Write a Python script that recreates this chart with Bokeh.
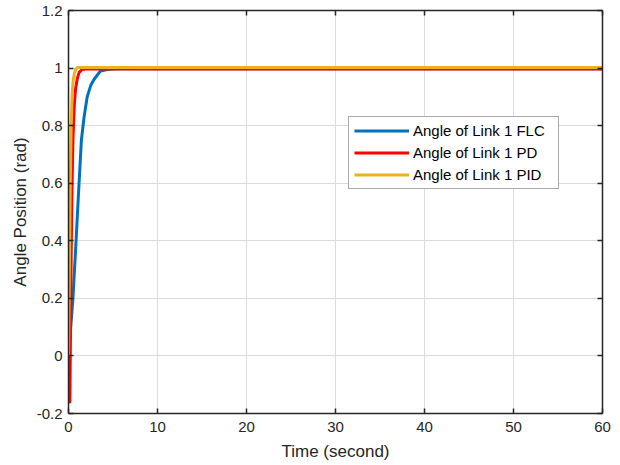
from bokeh.plotting import figure
from bokeh.models import LinearAxis, FixedTicker, PrintfTickFormatter, Legend, LegendItem
from bokeh.embed import file_html
from bokeh.resources import INLINE

# ---- data ----
flc_t = [0, 0.25, 0.5, 0.8, 1.1, 1.45, 1.75, 2.1, 2.5, 2.9, 3.6, 4.5, 5.5, 60]
flc_y = [0, 0.1, 0.2, 0.37, 0.55, 0.75, 0.83, 0.9, 0.94, 0.962, 0.99, 0.996, 0.998, 0.998]

pd_t = [0, 0.15, 0.2, 0.3, 0.4, 0.5, 0.65, 0.8, 1.0, 1.2, 1.5, 2.0, 60]
pd_y = [-0.16, -0.16, 0.0, 0.35, 0.6, 0.75, 0.87, 0.93, 0.965, 0.985, 0.995, 0.997, 0.997]

pid_t = [0, 0.1, 0.2, 0.3, 0.4, 0.5, 0.65, 0.8, 1.0, 1.3, 60]
pid_y = [0, 0.3, 0.6, 0.8, 0.9, 0.95, 0.98, 0.995, 1.002, 1.002, 1.002]

x_ticks = [0, 10, 20, 30, 40, 50, 60]
y_ticks = [-0.2, 0, 0.2, 0.4, 0.6, 0.8, 1, 1.2]

labels = ["Angle of Link 1 FLC", "Angle of Link 1 PD", "Angle of Link 1 PID"]
colors = ["#0072BD", "#FF0000", "#EDB120"]

FONT = "Liberation Sans"
DARK = "#262626"

p = figure(width=620, height=465, x_range=(0, 60), y_range=(-0.2, 1.2),
           output_backend="svg", toolbar_location=None,
           min_border_left=68, min_border_top=10, min_border_right=18, min_border_bottom=52)
p.margin = (0, 0, 0, 0)
p.outline_line_color = None
p.background_fill_color = "white"
p.border_fill_color = "white"

p.xaxis.axis_label = "Time (second)"
p.yaxis.axis_label = "Angle Position (rad)"

def base_axis(ax):
    ax.major_tick_in = 5
    ax.major_tick_out = 0
    ax.minor_tick_in = 0
    ax.minor_tick_out = 0
    ax.axis_line_color = DARK
    ax.axis_line_width = 1.5
    ax.major_tick_line_color = DARK
    ax.major_tick_line_width = 1.5
    ax.minor_tick_line_color = DARK
    ax.minor_tick_line_width = 1.5

def style_axis(ax, ticks):
    base_axis(ax)
    ax.ticker = FixedTicker(ticks=ticks)
    ax.formatter = PrintfTickFormatter(format="%g")
    ax.major_label_text_font = FONT
    ax.major_label_text_color = DARK
    ax.major_label_text_font_size = "15px"
    ax.axis_label_text_font = FONT
    ax.axis_label_text_font_size = "17px"
    ax.axis_label_text_font_style = "normal"
    ax.axis_label_text_color = DARK

def mirror_axis(ticks):
    # box side with inward tick marks only (ticks drawn as minor ticks, no labels)
    ax = LinearAxis(ticker=FixedTicker(ticks=[], minor_ticks=ticks))
    base_axis(ax)
    ax.minor_tick_in = 5
    ax.major_label_standoff = 0
    return ax

style_axis(p.xaxis[0], x_ticks)
style_axis(p.yaxis[0], y_ticks)
p.xaxis[0].major_label_standoff = 8
p.xaxis[0].axis_label_standoff = 7
p.yaxis[0].major_label_standoff = 6
p.yaxis[0].axis_label_standoff = 4

p.add_layout(mirror_axis(x_ticks), "above")
p.add_layout(mirror_axis(y_ticks), "right")

p.xgrid.ticker = FixedTicker(ticks=x_ticks)
p.ygrid.ticker = FixedTicker(ticks=y_ticks)
for g in (p.xgrid[0], p.ygrid[0]):
    g.grid_line_color = "#dcdcdc"
    g.grid_line_width = 1

renderers = []
for t, y, c in [(flc_t, flc_y, colors[0]), (pd_t, pd_y, colors[1]), (pid_t, pid_y, colors[2])]:
    r = p.line(t, y, line_width=3, line_color=c, line_join="round")
    renderers.append(r)

legend = Legend(items=[LegendItem(label=lab, renderers=[r]) for lab, r in zip(labels, renderers)],
                location=(280, 224))
legend.label_text_font = FONT
legend.label_text_font_size = "15px"
legend.label_text_color = "black"
legend.glyph_width = 55
legend.glyph_height = 17
legend.label_height = 17
legend.label_width = 140
legend.label_standoff = 4
legend.spacing = 5
legend.padding = 5
legend.margin = 0
legend.border_line_color = "#555555"
legend.border_line_width = 1
legend.background_fill_color = "white"
legend.background_fill_alpha = 1
p.add_layout(legend)

open("out.html", "w").write(file_html(p, INLINE))
